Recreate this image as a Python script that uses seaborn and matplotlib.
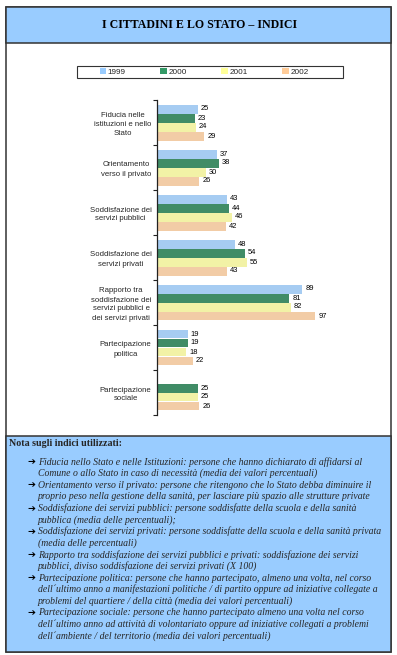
import numpy as np
import pandas as pd
import matplotlib
matplotlib.use("Agg")
import matplotlib.pyplot as plt
from matplotlib.patches import Rectangle
from matplotlib.ticker import FixedLocator
import seaborn as sns

W, H = 397, 655

categories = [
    "Fiducia nelle\nistituzioni e nello\nStato",
    "Orientamento\nverso il privato",
    "Soddisfazione dei\nservizi pubblici",
    "Soddisfazione dei\nservizi privati",
    "Rapporto tra\nsoddisfazione dei\nservizi pubblici e\ndei servizi privati",
    "Partecipazione\npolitica",
    "Partecipazione\nsociale",
]
years = ["1999", "2000", "2001", "2002"]
v1999 = [25, 37, 43, 48, 89, 19, np.nan]
v2000 = [23, 38, 44, 54, 81, 19, 25]
v2001 = [24, 30, 46, 55, 82, 18, 25]
v2002 = [29, 26, 42, 43, 97, 22, 26]
colors = ["#99CCFF", "#339966", "#FFFF99", "#FFCC99"]

title = "I CITTADINI E LO STATO \u2013 INDICI"
note_title = "Nota sugli indici utilizzati:"
notes = [
    ["Fiducia nello Stato e nelle Istituzioni: persone che hanno dichiarato di affidarsi al",
     "Comune o allo Stato in caso di necessità (media dei valori percentuali)"],
    ["Orientamento verso il privato: persone che ritengono che lo Stato debba diminuire il",
     "proprio peso nella gestione della sanità, per lasciare più spazio alle strutture private"],
    ["Soddisfazione dei servizi pubblici: persone soddisfatte della scuola e della sanità",
     "pubblica (media delle percentuali);"],
    ["Soddisfazione dei servizi privati: persone soddisfatte della scuola e della sanità privata",
     "(media delle percentuali)"],
    ["Rapporto tra soddisfazione dei servizi pubblici e privati: soddisfazione dei servizi",
     "pubblici, diviso soddisfazione dei servizi privati (X 100)"],
    ["Partecipazione politica: persone che hanno partecipato, almeno una volta, nel corso",
     "dell´ultimo anno a manifestazioni politiche / di partito oppure ad iniziative collegate a",
     "problemi del quartiere / della città (media dei valori percentuali)"],
    ["Partecipazione sociale: persone che hanno partecipato almeno una volta nel corso",
     "dell´ultimo anno ad attività di volontariato oppure ad iniziative collegati a problemi",
     "dell´ambiente / del territorio (media dei valori percentuali)"],
]

df = pd.DataFrame({"cat": categories, "1999": v1999, "2000": v2000,
                   "2001": v2001, "2002": v2002})
long = df.melt(id_vars="cat", var_name="year", value_name="value")


def fx(x):
    return x / W


def fy(y):
    return 1 - y / H


sns.set_theme(style="white")
plt.rcParams["font.family"] = ["Liberation Sans", "DejaVu Sans"]

fig = plt.figure(figsize=(W / 100, H / 100), dpi=100)
fig.patch.set_facecolor("white")


# frame, title band and note box
def box(x0, y0, x1, y1, fc, lw=1.1):
    fig.add_artist(Rectangle((fx(x0), fy(y1)), fx(x1) - fx(x0), fy(y0) - fy(y1),
                             transform=fig.transFigure, facecolor=fc,
                             edgecolor="#333333", linewidth=lw, zorder=0))


box(6, 7, 391, 652, "white")
box(6, 7, 391, 43, "#99CCFF")
box(6, 436, 391, 652, "#99CCFF")

fig.text(fx(200), fy(25), title, ha="center", va="center",
         family="Liberation Serif", fontweight="bold", fontsize=8.6, color="black")

# chart
ax = fig.add_axes([fx(157), fy(415), fx(340) - fx(157), fy(100) - fy(415)])
ax.set_facecolor("none")
sns.barplot(data=long, y="cat", x="value", hue="year", hue_order=years,
            palette=colors, orient="h", width=0.8, linewidth=0, ax=ax,
            legend=False, errorbar=None)
ax.set_xlim(0, 112)
ax.set_ylim(6.5, -0.5)

for cont in ax.containers:
    labels = ["" if np.isnan(b.get_width()) else f"{b.get_width():.0f}" for b in cont]
    ax.bar_label(cont, labels=labels, padding=2, fontsize=5.4, color="black")

for s in ["top", "right", "bottom"]:
    ax.spines[s].set_visible(False)
ax.spines["left"].set_color("#222222")
ax.spines["left"].set_linewidth(0.9)
ax.set_xticks([])
ax.set_xlabel("")
ax.set_ylabel("")
ax.set_yticks(range(len(categories)))
ax.set_yticklabels(categories, fontsize=5.6, multialignment="center", linespacing=1.4)
ax.tick_params(axis="y", which="major", length=0, pad=4)
ax.yaxis.set_minor_locator(FixedLocator(np.arange(-0.5, 7, 1)))
ax.tick_params(axis="y", which="minor", left=True, length=3, width=0.8,
               color="#222222", direction="out")

# legend: frame drawn separately, entries centred inside
box(77, 66, 343, 78, "white", lw=0.8)
handles = [Rectangle((0, 0), 1, 1, facecolor=c, edgecolor="none") for c in colors]
leg = fig.legend(handles, years, loc="center",
                 bbox_to_anchor=(fx(204), fy(72)),
                 ncol=4, fontsize=5.9, frameon=False,
                 handlelength=0.8, handleheight=0.8, handletextpad=0.2,
                 columnspacing=4.2, borderpad=0, borderaxespad=0)

# notes
fig.text(fx(9), fy(443), note_title, ha="left", va="center",
         family="Liberation Serif", fontweight="bold", fontsize=7.2)
y = 462
step = 11.6
for item in notes:
    fig.text(fx(27), fy(y), "\u2794", ha="left", va="center",
             family="DejaVu Sans", fontsize=6.8, color="black")
    for line in item:
        fig.text(fx(38), fy(y), line, ha="left", va="center",
                 family="Liberation Serif", fontstyle="italic", fontsize=7.0)
        y += step

fig.savefig("out.png", dpi=100)
